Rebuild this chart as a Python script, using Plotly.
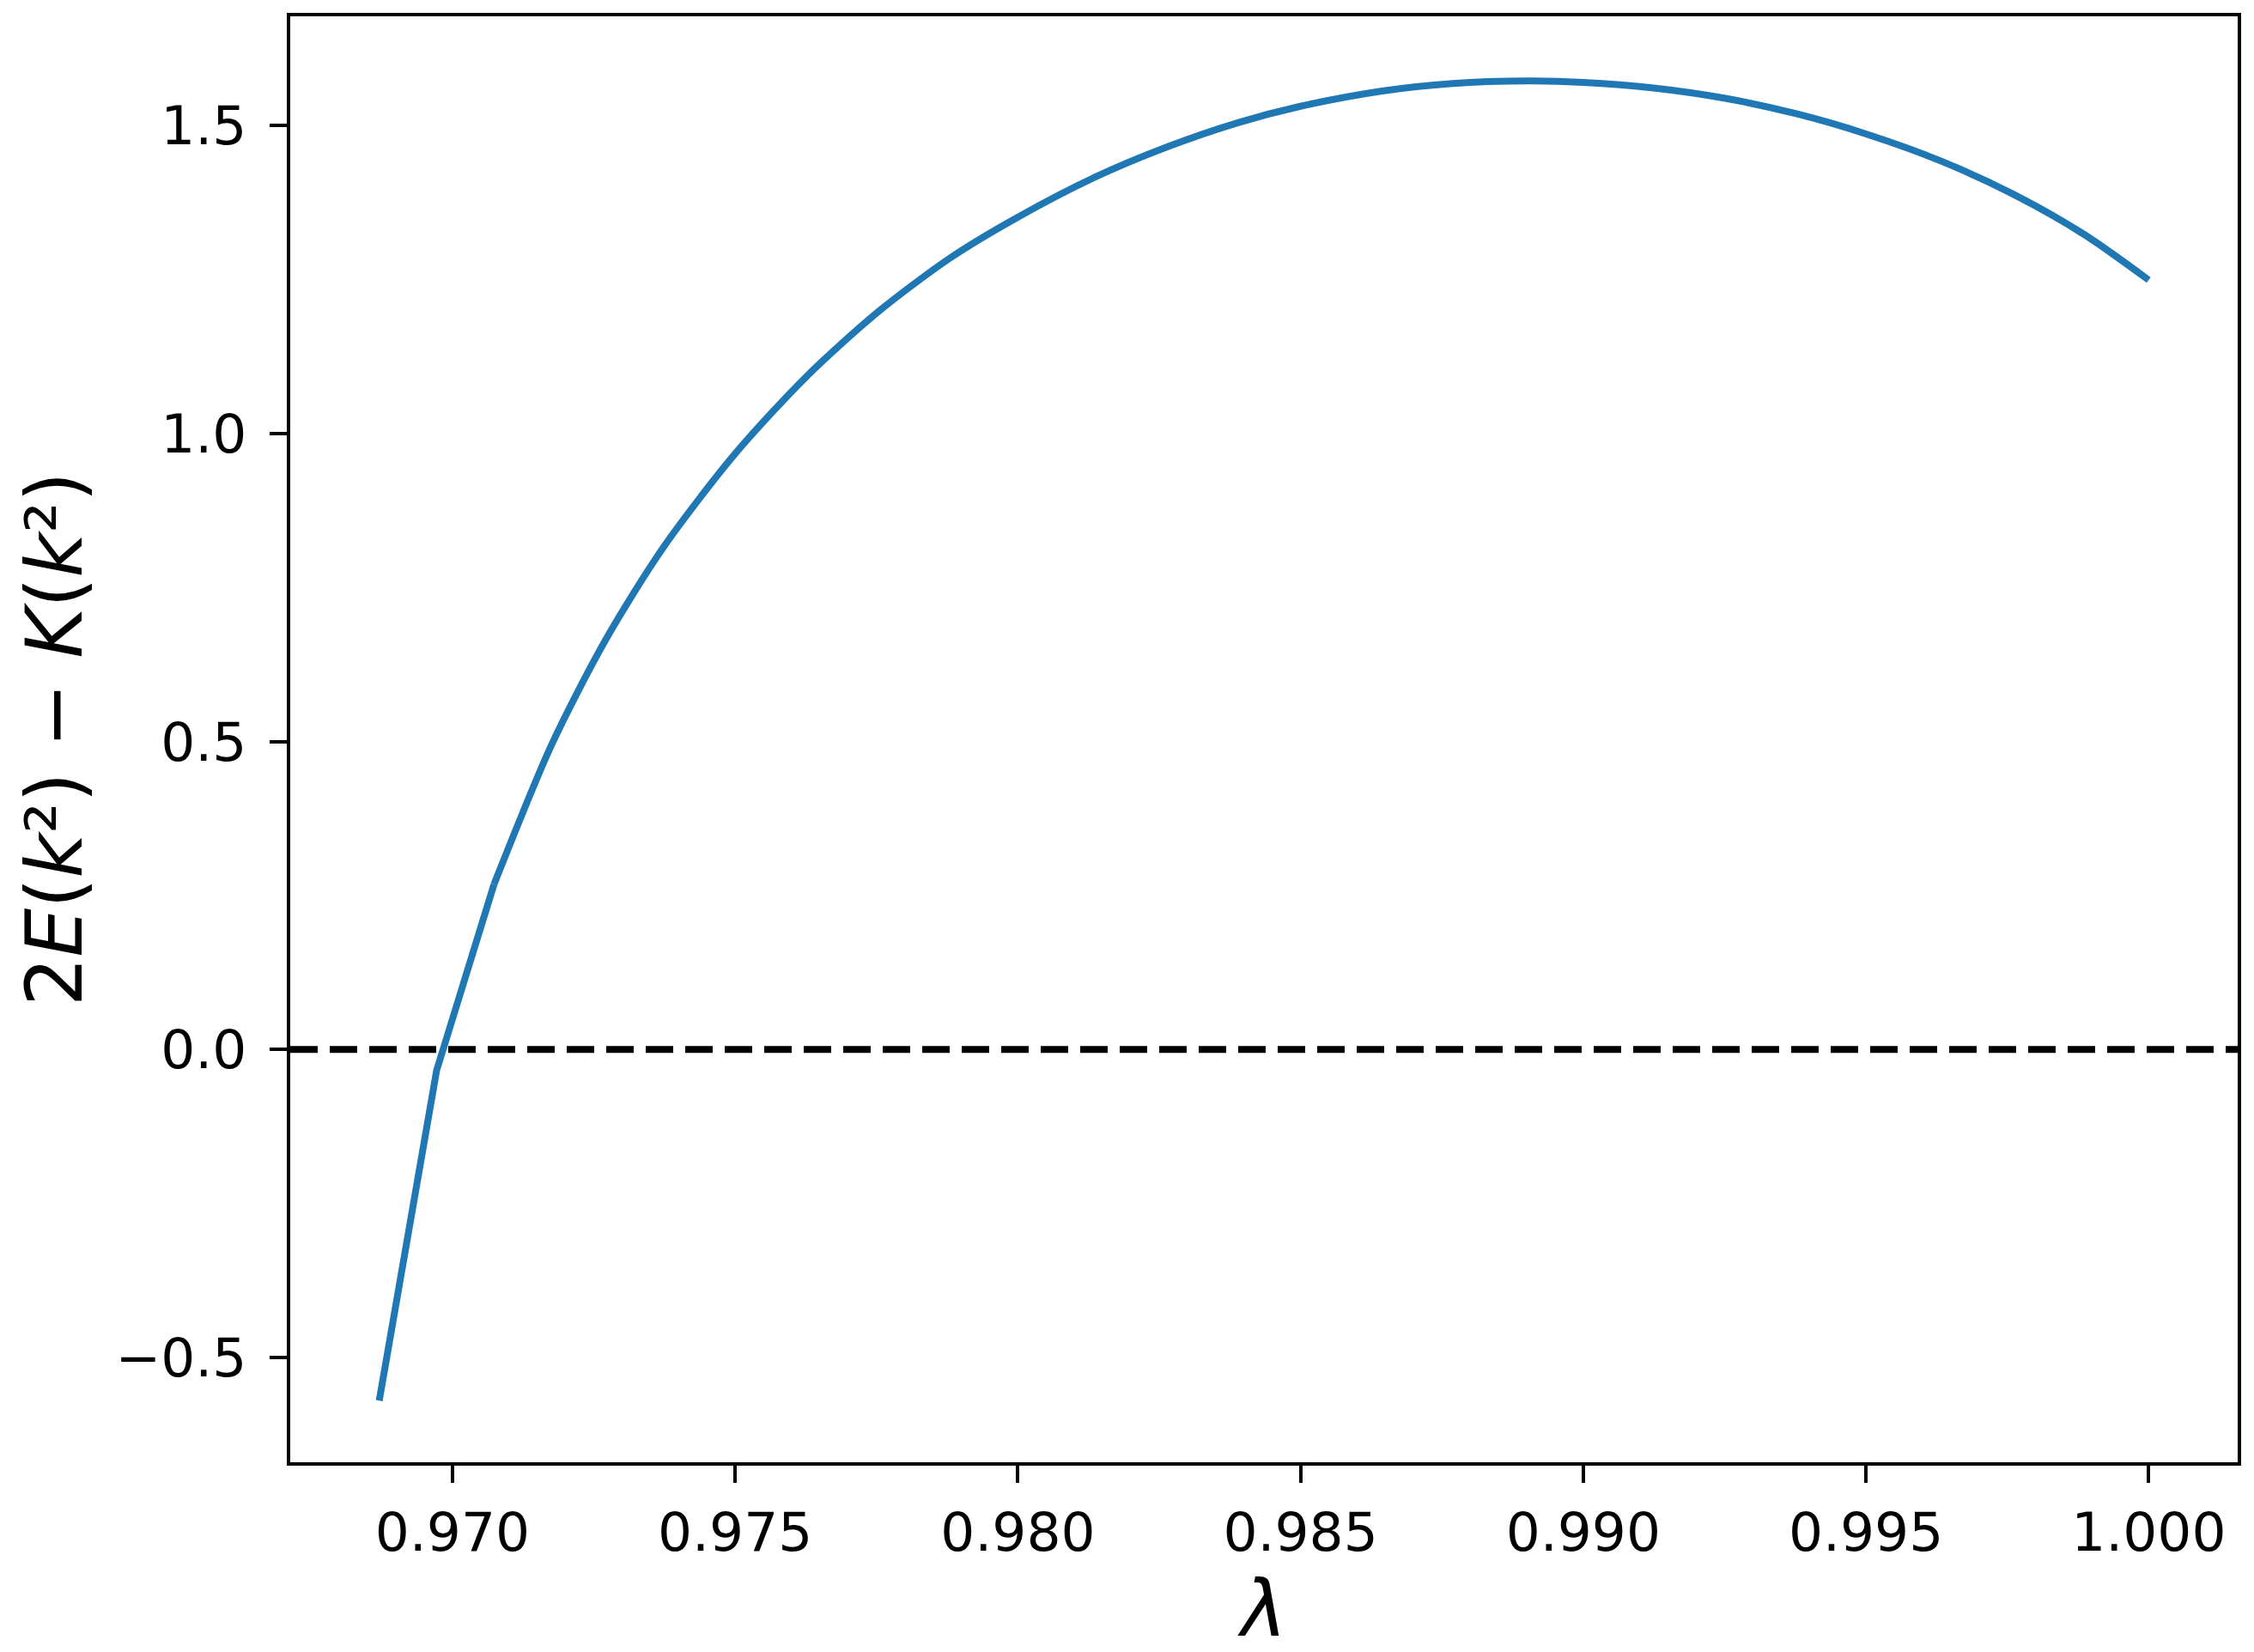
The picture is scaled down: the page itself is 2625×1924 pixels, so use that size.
import plotly.graph_objects as go

# Data
lam = [0.968706, 0.969721, 0.970736, 0.971751, 0.972716, 0.973731, 0.975000,
       0.976269, 0.977538, 0.978807, 0.980000, 0.981345, 0.982614, 0.983883,
       0.985000, 0.986421, 0.987690, 0.989086, 0.990000, 0.991244, 0.992513,
       0.993782, 0.995000, 0.996320, 0.997589, 0.998858, 1.000000]
value = [-0.570, -0.034, 0.268, 0.494, 0.666, 0.815, 0.967,
         1.093, 1.198, 1.285, 1.351, 1.415, 1.464, 1.504,
         1.531, 1.5555, 1.568, 1.572, 1.5698, 1.5607, 1.5439,
         1.5185, 1.4861, 1.4424, 1.389, 1.323, 1.249]
zero_level = 0.0

x_ticks = [0.970, 0.975, 0.980, 0.985, 0.990, 0.995, 1.000]
y_ticks = [-0.5, 0.0, 0.5, 1.0, 1.5]

W, H = 2625, 1924
FONT = "DejaVu Sans"
L, R, T, B = 330, 2598, 11, 1695

fig = go.Figure()
# first two steep segments are straight in the reference
fig.add_trace(go.Scatter(
    x=lam[:3], y=value[:3], mode="lines",
    line=dict(color="#1f77b4", width=8),
    showlegend=False, hoverinfo="skip",
))
fig.add_trace(go.Scatter(
    x=lam[2:], y=value[2:], mode="lines",
    line=dict(color="#1f77b4", width=8, shape="spline", smoothing=0.8),
    showlegend=False, hoverinfo="skip",
))

fig.add_shape(type="line", xref="x domain", yref="y",
              x0=0, x1=1, y0=zero_level, y1=zero_level,
              line=dict(color="black", width=8, dash="32px,14px"),
              layer="above")

axis_common = dict(
    showline=True, linecolor="black", linewidth=4, mirror=True,
    ticks="outside", ticklen=20, tickwidth=4, tickcolor="black",
    showgrid=False, zeroline=False,
    tickfont=dict(family=FONT, size=63, color="black"),
)

fig.update_xaxes(
    range=[0.967132, 1.001574], tickvals=x_ticks, tickformat=".3f",
    title=dict(text="<i>λ</i>", font=dict(family=FONT, size=90, color="black"), standoff=18),
    ticklabelstandoff=3,
    **axis_common,
)
fig.update_yaxes(
    range=[-0.670, 1.677], tickvals=y_ticks, tickformat=".1f",
    ticklabelstandoff=14,
    **axis_common,
)

# y-axis label as a rotated annotation for precise placement
fig.add_annotation(
    text="2<i>E</i>(<i>k</i>²) − <i>K</i>(<i>k</i>²)",
    xref="paper", yref="paper", x=0, y=0.5,
    xanchor="center", yanchor="middle", xshift=-(L - 55),
    textangle=-90, showarrow=False,
    font=dict(family=FONT, size=90, color="black"),
)

fig.update_layout(
    width=W, height=H,
    margin=dict(l=L, r=W - R, t=T, b=H - B, autoexpand=False),
    paper_bgcolor="white", plot_bgcolor="white",
    font=dict(family=FONT, color="black"),
)

fig.write_html("out.html")
